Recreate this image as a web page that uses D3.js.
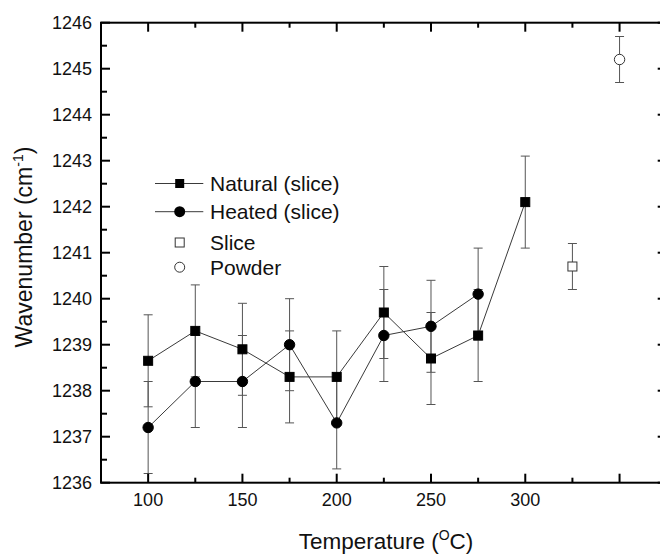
<!DOCTYPE html>
<html>
<head>
<meta charset="utf-8">
<script src="https://cdn.jsdelivr.net/npm/d3@7/dist/d3.min.js"></script>
<style>
  html, body { margin: 0; padding: 0; background: #fff; }
  svg { display: block; font-family: "Liberation Sans", Arial, sans-serif; }
</style>
</head>
<body>
<svg id="chart" width="660" height="554"></svg>
<script>
// ---- data ----
const naturalTemps = [100, 125, 150, 175, 200, 225, 250, 275, 300];
const naturalValues = [1238.65, 1239.3, 1238.9, 1238.3, 1238.3, 1239.7, 1238.7, 1239.2, 1242.1];
const naturalErr = [1.0, 1.0, 1.0, 1.0, 1.0, 1.0, 1.0, 1.0, 1.0];

const heatedTemps = [100, 125, 150, 175, 200, 225, 250, 275];
const heatedValues = [1237.2, 1238.2, 1238.2, 1239.0, 1237.3, 1239.2, 1239.4, 1240.1];
const heatedErr = [1.0, 1.0, 1.0, 1.0, 1.0, 1.0, 1.0, 1.0];

const sliceTemps = [325];
const sliceValues = [1240.7];
const sliceErr = [0.5];

const powderTemps = [350];
const powderValues = [1245.2];
const powderErr = [0.5];

const xTickLabels = [100, 150, 200, 250, 300];
const xMajorTicks = [100, 150, 200, 250, 300, 350];
const xMinorTicks = [125, 175, 225, 275, 325];
const yTickLabels = [1236, 1237, 1238, 1239, 1240, 1241, 1242, 1243, 1244, 1245, 1246];
const yMinorTicks = [1236.5, 1237.5, 1238.5, 1239.5, 1240.5, 1241.5, 1242.5, 1243.5, 1244.5, 1245.5];

const legendLabels = ["Natural (slice)", "Heated (slice)", "Slice", "Powder"];

(function () {
// ---- layout ----
const svg = d3.select("#chart");
const pLeft = 101, pRight = 666.7, pTop = 22.7, pBottom = 482.7;
const x = d3.scaleLinear().domain([75, 375]).range([pLeft, pRight]);
const y = d3.scaleLinear().domain([1236, 1246]).range([pBottom, pTop]);

const lineColor = "#3a3a3a";
const errColor = "#555";

function zip(xs, ys, es) { return xs.map((t, i) => ({ t, v: ys[i], e: es[i] })); }
const natural = zip(naturalTemps, naturalValues, naturalErr);
const heated = zip(heatedTemps, heatedValues, heatedErr);
const slice = zip(sliceTemps, sliceValues, sliceErr);
const powder = zip(powderTemps, powderValues, powderErr);

// lines
const line = d3.line().x(d => x(d.t)).y(d => y(d.v));
[natural, heated].forEach(s => {
  svg.append("path").datum(s).attr("d", line)
    .attr("fill", "none").attr("stroke", lineColor).attr("stroke-width", 1);
});

// error bars
const capW = 4.5;
function errorBars(data) {
  const g = svg.append("g").attr("stroke", errColor).attr("stroke-width", 1).attr("fill", "none");
  data.forEach(d => {
    const cx = x(d.t);
    g.append("line").attr("x1", cx).attr("x2", cx).attr("y1", y(d.v - d.e)).attr("y2", y(d.v + d.e));
    g.append("line").attr("x1", cx - capW).attr("x2", cx + capW).attr("y1", y(d.v + d.e)).attr("y2", y(d.v + d.e));
    g.append("line").attr("x1", cx - capW).attr("x2", cx + capW).attr("y1", y(d.v - d.e)).attr("y2", y(d.v - d.e));
  });
}
[natural, heated, slice, powder].forEach(errorBars);

// markers
const sq = 9, rad = 5.2;
function squares(data, filled) {
  svg.append("g").selectAll("rect").data(data).join("rect")
    .attr("x", d => x(d.t) - sq / 2).attr("y", d => y(d.v) - sq / 2)
    .attr("width", sq).attr("height", sq)
    .attr("fill", filled ? "#000" : "#fff")
    .attr("stroke", filled ? "#000" : "#333").attr("stroke-width", 1);
}
function circles(data, filled) {
  svg.append("g").selectAll("circle").data(data).join("circle")
    .attr("cx", d => x(d.t)).attr("cy", d => y(d.v)).attr("r", rad)
    .attr("fill", filled ? "#000" : "#fff")
    .attr("stroke", filled ? "#000" : "#333").attr("stroke-width", 1);
}
squares(natural, true);
circles(heated, true);
squares(slice, false);
circles(powder, false);

// ---- axes ----
const axG = svg.append("g");
axG.append("rect").attr("x", pLeft).attr("y", pTop).attr("width", pRight - pLeft).attr("height", pBottom - pTop)
  .attr("fill", "none").attr("stroke", "#000").attr("stroke-width", 2);

const majorLen = 9, minorLen = 5;
function tick(x1, y1, x2, y2) {
  axG.append("line").attr("x1", x1).attr("y1", y1).attr("x2", x2).attr("y2", y2)
    .attr("stroke", "#000").attr("stroke-width", 2);
}
xMajorTicks.forEach(t => {
  tick(x(t), pBottom, x(t), pBottom - majorLen);
  tick(x(t), pTop, x(t), pTop + majorLen);
});
xMinorTicks.forEach(t => {
  tick(x(t), pBottom, x(t), pBottom - minorLen);
  tick(x(t), pTop, x(t), pTop + minorLen);
});
yTickLabels.forEach(v => {
  tick(pLeft, y(v), pLeft + majorLen, y(v));
  tick(pRight, y(v), pRight - majorLen, y(v));
});
yMinorTicks.forEach(v => {
  tick(pLeft, y(v), pLeft + minorLen + 1, y(v));
  tick(pRight, y(v), pRight - minorLen, y(v));
});

// tick labels
axG.selectAll("text.xl").data(xTickLabels).join("text")
  .attr("class", "xl").attr("x", d => x(d)).attr("y", pBottom + 23.5)
  .attr("text-anchor", "middle").attr("font-size", 18).attr("fill", "#111").text(d => d);
axG.selectAll("text.yl").data(yTickLabels).join("text")
  .attr("class", "yl").attr("x", pLeft - 9).attr("y", d => y(d) + 6.3)
  .attr("text-anchor", "end").attr("font-size", 18).attr("fill", "#111").text(d => d);

// axis titles
const xt = svg.append("text").attr("x", 386).attr("y", 548.5).attr("text-anchor", "middle")
  .attr("font-size", 22.5).attr("fill", "#111");
xt.append("tspan").text("Temperature (");
xt.append("tspan").attr("font-size", 14).attr("dy", -9).text("O");
xt.append("tspan").attr("dy", 9).text("C)");

const yt = svg.append("text").attr("transform", "translate(31.5,247) rotate(-90)").attr("text-anchor", "middle")
  .attr("font-size", 23).attr("fill", "#111");
yt.append("tspan").text("Wavenumber (cm");
yt.append("tspan").attr("font-size", 14).attr("dy", -9).text("-1");
yt.append("tspan").attr("dy", 9).text(")");

// ---- legend ----
const legY = [183.5, 211.7, 242.5, 267.2];
const lg = svg.append("g");
const lx1 = 155, lx2 = 203.3, lcx = 179.7;
lg.append("line").attr("x1", lx1).attr("x2", lx2).attr("y1", legY[0]).attr("y2", legY[0]).attr("stroke", lineColor).attr("stroke-width", 1);
lg.append("rect").attr("x", lcx - 4.5).attr("y", legY[0] - 4.5).attr("width", 9).attr("height", 9).attr("fill", "#000");
lg.append("line").attr("x1", lx1).attr("x2", lx2).attr("y1", legY[1]).attr("y2", legY[1]).attr("stroke", lineColor).attr("stroke-width", 1);
lg.append("circle").attr("cx", lcx).attr("cy", legY[1]).attr("r", 5.5).attr("fill", "#000");
lg.append("rect").attr("x", lcx - 4.5).attr("y", legY[2] - 4.5).attr("width", 9).attr("height", 9).attr("fill", "#fff").attr("stroke", "#333");
lg.append("circle").attr("cx", lcx).attr("cy", legY[3]).attr("r", 5).attr("fill", "#fff").attr("stroke", "#333");
lg.selectAll("text").data(legendLabels).join("text")
  .attr("x", 210).attr("y", (d, i) => legY[i] + 7.4)
  .attr("font-size", 21).attr("fill", "#111").text(d => d);
})();
</script>
</body>
</html>
